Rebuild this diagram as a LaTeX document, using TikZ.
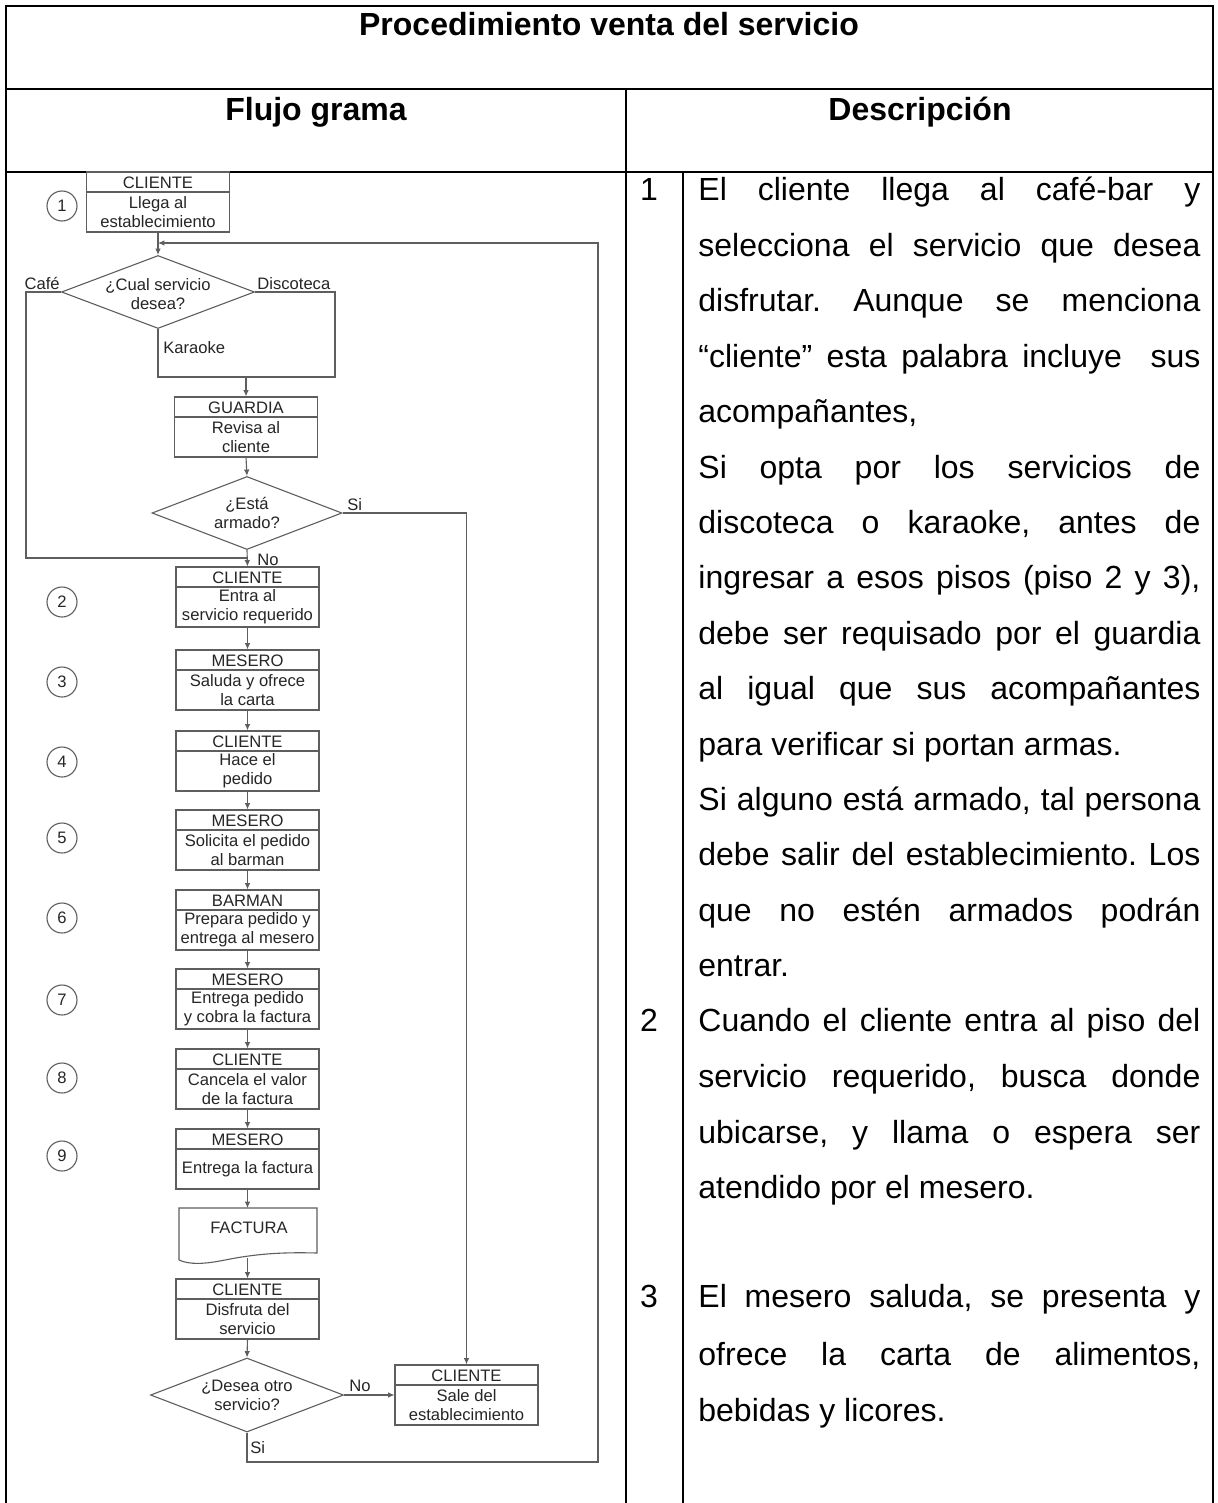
\documentclass[tikz,border=0pt]{standalone}
\usepackage{fontspec}
\setmainfont{Liberation Sans}
\usetikzlibrary{arrows.meta,shapes.geometric,calc}
\definecolor{fcline}{HTML}{5E5E5E}
\definecolor{fctext}{HTML}{262626}
\newcommand\procbox[5]{%
  \node[pboxsty] (#1) at (#2,#3+30) {};
  \draw[fc] (#2-71.5,#3+20) -- (#2+71.5,#3+20);
  \node[fctxt] at (#2,#3+10.5) {#4};
  \node[fctxt] at (#2,#3+40) {#5};
}
\frenchspacing
\begin{document}
\begin{tikzpicture}[x=0.5pt,y=-0.5pt,
  tbl/.style={line width=1.1pt, black},
  tblthin/.style={line width=0.6pt, black},
  fc/.style={draw=fcline, line width=0.55pt},
  arr/.style={fc, -{Latex[length=3.2pt,width=2.8pt]}},
  pboxsty/.style={draw=fcline, line width=0.55pt, minimum width=71.5pt, minimum height=30pt, inner sep=0pt},
  dia/.style={draw=fcline, line width=0.55pt, diamond, inner sep=0pt},
  fctxt/.style={text=fctext, font=\fontsize{8.3}{9.5}\selectfont, align=center, inner sep=0pt},
  lbl/.style={text=fctext, font=\fontsize{8.3}{9.5}\selectfont, inner sep=0pt},
  circ/.style={draw=fcline, line width=0.55pt, circle, minimum size=15pt, inner sep=0pt, text=fctext, font=\fontsize{8.3}{9.5}\selectfont},
  desc/.style={inner sep=0pt, font=\fontsize{16}{19}\selectfont\frenchspacing},
  head/.style={inner sep=0pt, font=\fontsize{16}{19}\selectfont\bfseries}
]
\useasboundingbox (0,0) rectangle (1217,1503);
\fill[white] (0,0) rectangle (1217,1503);

% ---------- table ----------
\draw[tbl] (6,1503) -- (6,6) -- (1213,6) -- (1213,1503);
\draw[tbl] (6,89) -- (1213,89);
\draw[tbl] (626,89) -- (626,1503);
\draw[tbl] (6,172) -- (25,172);
\draw[tblthin] (25,172) -- (599,172);
\draw[tbl] (599,172) -- (1213,172);
\draw[tbl] (683,172) -- (683,1503);

\node[head, anchor=base] (title) at (609,36) {Procedimiento venta del servicio};
\node[head, anchor=base] (hflujo) at (316,121) {Flujo grama};
\node[head, anchor=base] (hdesc) at (920,121) {Descripción};

% ---------- flowchart ----------
\procbox{b1}{158}{172}{CLIENTE}{Llega al\\establecimiento}
\node[dia, minimum width=96.5pt, minimum height=36.5pt] (d1) at (158,292) {};
\node[fctxt] at (158,294) {¿Cual servicio\\desea?};
\procbox{bg}{246}{397}{GUARDIA}{Revisa al\\cliente}
\node[dia, minimum width=95pt, minimum height=36.5pt] (d2) at (247,513) {};
\node[fctxt] at (247,513) {¿Está\\armado?};
\procbox{b2}{247.5}{567}{CLIENTE}{Entra al\\servicio requerido}
\procbox{b3}{247.5}{650}{MESERO}{Saluda y ofrece\\la carta}
\procbox{b4}{247.5}{731}{CLIENTE}{Hace el\\pedido}
\procbox{b5}{247.5}{810}{MESERO}{Solicita el pedido\\al barman}
\procbox{b6}{247.5}{890}{BARMAN}{Prepara pedido y\\entrega al mesero}
\procbox{b7}{247.5}{969}{MESERO}{Entrega pedido\\y cobra la factura}
\procbox{b8}{247.5}{1049}{CLIENTE}{Cancela el valor\\de la factura}
\procbox{b9}{247.5}{1129}{MESERO}{Entrega la factura}
% document shape
\draw[fc] (179,1260) -- (179,1208) -- (317,1208) -- (317,1253)
  .. controls (280,1252) and (255,1254) .. (225,1260)
  .. controls (205,1264) and (190,1265) .. (179,1260);
\node[fctxt] (factura) at (249,1228) {FACTURA};
\coordinate (docTop) at (247.5,1208);
\coordinate (docBot) at (247.5,1258);
\procbox{b10}{247.5}{1279}{CLIENTE}{Disfruta del\\servicio}
\node[dia, minimum width=96.5pt, minimum height=37pt] (d3) at (247,1395) {};
\node[fctxt] at (247,1395) {¿Desea otro\\servicio?};
\procbox{b11}{466.5}{1365}{CLIENTE}{Sale del\\establecimiento}

% circles
\node[circ] (c1) at (62,206) {1};
\node[circ] (c2) at (62,602) {2};
\node[circ] (c3) at (62,682) {3};
\node[circ] (c4) at (62,762) {4};
\node[circ] (c5) at (62,838) {5};
\node[circ] (c6) at (62,918) {6};
\node[circ] (c7) at (62,1000) {7};
\node[circ] (c8) at (62,1078) {8};
\node[circ] (c9) at (62,1156) {9};

% connector helper coordinates
\coordinate (cafeL) at (26,292);
\coordinate (join) at (247,558);
\coordinate (karB) at (158,377);
\coordinate (disR) at (335,292);
\coordinate (disB) at (335,377);
\coordinate (karJ) at (246,377);
\coordinate (loopR) at (598,1462);
\coordinate (loopT) at (598,243);
\coordinate (loopIn) at (158,243);

% connectors
\draw[arr] (b1.south) -- (d1.north);
\draw[fc] (d1.west) -- (cafeL) |- (join);
\draw[fc] (d1.south) -- (karB) -- (disB) -- (disR) -- (d1.east);
\draw[arr] (karJ) -- (bg.north);
\draw[arr] (bg.south) -- (d2.north);
\draw[arr] (d2.south) -- (b2.north);
\draw[arr] (d2.east) -| (b11.north);
\draw[arr] (b2.south) -- (b3.north);
\draw[arr] (b3.south) -- (b4.north);
\draw[arr] (b4.south) -- (b5.north);
\draw[arr] (b5.south) -- (b6.north);
\draw[arr] (b6.south) -- (b7.north);
\draw[arr] (b7.south) -- (b8.north);
\draw[arr] (b8.south) -- (b9.north);
\draw[arr] (b9.south) -- (docTop);
\draw[arr] (docBot) -- (b10.north);
\draw[arr] (b10.south) -- (d3.north);
\draw[arr] (d3.east) -- (b11.west);
\draw[arr] (d3.south) |- (loopR) -- (loopT) -- (loopIn);

% connector labels
\node[lbl, anchor=base east] (lcafe) at (60,289) {Café};
\node[lbl, anchor=base west] (ldisco) at (257,289) {Discoteca};
\node[lbl, anchor=base west] (lkara) at (163,353) {Karaoke};
\node[lbl, anchor=base west] (lsi1) at (347,510) {Si};
\node[lbl, anchor=base west] (lno1) at (257,565) {No};
\node[lbl, anchor=base west] (lno2) at (349,1391) {No};
\node[lbl, anchor=base west] (lsi2) at (250,1453) {Si};

% ---------- description ----------
\node[desc, anchor=base] (n1) at (649,201) {1};
\node[desc, anchor=base] (n2) at (649,1031) {2};
\node[desc, anchor=base] (n3) at (649,1307) {3};

\node[desc, anchor=base west] (t1) at (698,201) {\makebox[251pt][s]{El cliente llega al café-bar y}};
\node[desc, anchor=base west] (t2) at (698,256.4) {\makebox[251pt][s]{selecciona el servicio que desea}};
\node[desc, anchor=base west] (t3) at (698,311.8) {\makebox[251pt][s]{disfrutar. Aunque se menciona}};
\node[desc, anchor=base west] (t4) at (698,367.2) {\makebox[251pt][s]{“cliente” esta palabra incluye\ \ sus}};
\node[desc, anchor=base west] (t5) at (698,422.6) {acompañantes,};
\node[desc, anchor=base west] (t6) at (698,478) {\makebox[251pt][s]{Si opta por los servicios de}};
\node[desc, anchor=base west] (t7) at (698,533.4) {\makebox[251pt][s]{discoteca o karaoke, antes de}};
\node[desc, anchor=base west] (t8) at (698,588.8) {\makebox[251pt][s]{ingresar a esos pisos (piso 2 y 3),}};
\node[desc, anchor=base west] (t9) at (698,644.2) {\makebox[251pt][s]{debe ser requisado por el guardia}};
\node[desc, anchor=base west] (t10) at (698,699.6) {\makebox[251pt][s]{al igual que sus acompañantes}};
\node[desc, anchor=base west] (t11) at (698,755) {para verificar si portan armas.};
\node[desc, anchor=base west] (t12) at (698,810.4) {\makebox[251pt][s]{Si alguno está armado, tal persona}};
\node[desc, anchor=base west] (t13) at (698,865.8) {\makebox[251pt][s]{debe salir del establecimiento. Los}};
\node[desc, anchor=base west] (t14) at (698,921.2) {\makebox[251pt][s]{que no estén armados podrán}};
\node[desc, anchor=base west] (t15) at (698,976.6) {entrar.};

\node[desc, anchor=base west] (t16) at (698,1031) {\makebox[251pt][s]{Cuando el cliente entra al piso del}};
\node[desc, anchor=base west] (t17) at (698,1087) {\makebox[251pt][s]{servicio requerido, busca donde}};
\node[desc, anchor=base west] (t18) at (698,1143) {\makebox[251pt][s]{ubicarse, y llama o espera ser}};
\node[desc, anchor=base west] (t19) at (698,1198) {atendido por el mesero.};

\node[desc, anchor=base west] (t20) at (698,1307) {\makebox[251pt][s]{El mesero saluda, se presenta y}};
\node[desc, anchor=base west] (t21) at (698,1365) {\makebox[251pt][s]{ofrece la carta de alimentos,}};
\node[desc, anchor=base west] (t22) at (698,1421) {bebidas y licores.};
\end{tikzpicture}
\end{document}
